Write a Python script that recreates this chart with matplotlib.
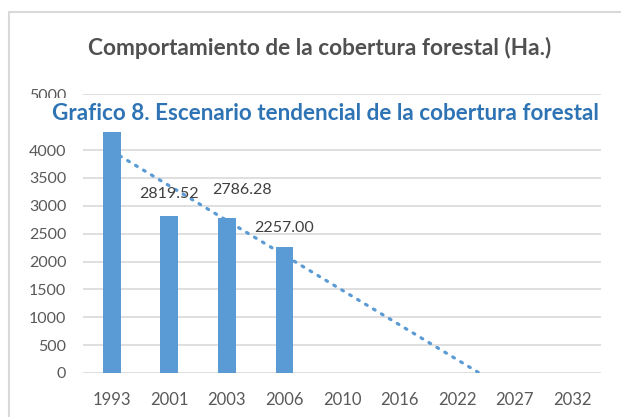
import numpy as np
import matplotlib.pyplot as plt
from matplotlib.patches import Rectangle

# datos
years = ["1993", "2001", "2003", "2006", "2010", "2016", "2022", "2027", "2032"]
cobertura = [4325.0, 2819.52, 2786.28, 2257.00]
labels = ["", "2819.52", "2786.28", "2257.00"]
label_offsets = [(0, 0), (0, 11), (11, 15), (0, 9)]
y_ticks = [0, 500, 1000, 1500, 2000, 2500, 3000, 3500, 4000, 4500, 5000]
# 4500 queda tapado por el titulo del documento
y_ticklabels = ["0", "500", "1000", "1500", "2000", "2500", "3000", "3500", "4000", "", "5000"]

bar_color = "#5B9BD5"
text_color = "#595959"
plt.rcParams["font.family"] = ["Lato", "DejaVu Sans"]

fig = plt.figure(figsize=(6.21, 4.17), dpi=100)
W, H = 621, 417
ax = fig.add_axes([83 / W, 44 / H, 518 / W, (373 - 94.3) / H])

x = np.arange(len(cobertura))
ax.bar(x, cobertura, width=0.31, color=bar_color, zorder=3)

# linea de tendencia lineal (hasta llegar a cero)
slope, inter = np.polyfit(x, cobertura, 1)
x_end = -inter / slope
xt = np.linspace(0, x_end, 200)
ax.plot(xt, slope * xt + inter, color=bar_color, lw=2.3, ls=(0, (0.6, 2.3)),
        dash_capstyle="round", zorder=2)

for xi, v, lab, off in zip(x, cobertura, labels, label_offsets):
    if lab:
        ax.annotate(lab, (xi, v), xytext=off, textcoords="offset points",
                    ha="center", va="bottom", fontsize=11.5, color="#404040")

ax.set_xlim(-0.5, len(years) - 0.5)
ax.set_ylim(0, 5000)
ax.set_xticks(range(len(years)))
ax.set_xticklabels(years)
ax.set_yticks(y_ticks)
ax.set_yticklabels(y_ticklabels)
ax.tick_params(length=0, labelsize=11.5, colors=text_color)
ax.tick_params(axis="y", pad=12)
ax.tick_params(axis="x", pad=14, labelsize=12)
ax.grid(axis="y", color="#D9D9D9", lw=1.2, zorder=0)
for s in ax.spines.values():
    s.set_visible(False)

# marco exterior
fig.patches.append(Rectangle((9 / W, -0.1), 1.1, 1 - 12 / H + 0.1,
                             transform=fig.transFigure, fill=False,
                             edgecolor="#D9D9D9", lw=1.5))

fig.text(320 / W, 1 - 48 / H, "Comportamiento de la cobertura forestal (Ha.)",
         ha="center", va="center", fontsize=16.3, fontweight="bold", color="#505050")

# recuadro blanco del titulo del documento
fig.patches.append(Rectangle((20 / W, 1 - 130 / H), 592 / W, 32 / H,
                             transform=fig.transFigure, facecolor="white",
                             edgecolor="none", zorder=5))
fig.text(325 / W, 1 - 113 / H, "Grafico 8. Escenario tendencial de la cobertura forestal",
         ha="center", va="center", fontsize=16.2, fontweight="bold", color="#2E74B5",
         zorder=6)

fig.savefig("out.png", dpi=100)
